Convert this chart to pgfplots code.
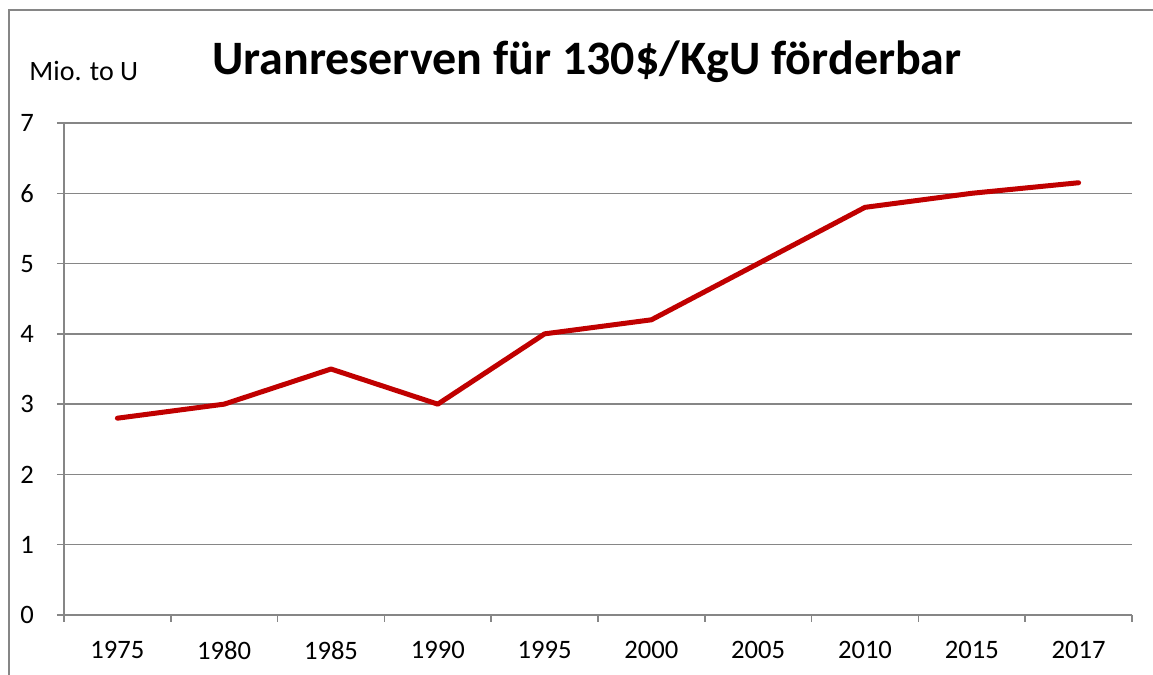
\documentclass[border=0pt]{standalone}
\usepackage{fontspec}
\setmainfont{Carlito}
\usepackage{pgfplots}
\pgfplotsset{compat=1.18}
\definecolor{exred}{RGB}{192,0,0}
\definecolor{exgray}{RGB}{134,134,134}
\begin{document}
\begin{tikzpicture}
\useasboundingbox (0,0) rectangle (576.5pt,337.5pt);
\draw[exgray, line width=1pt] (4.5pt,0) -- (4.5pt,332.5pt) -- (576.5pt,332.5pt);
\node[anchor=base west, font=\fontsize{14}{16}\selectfont, inner sep=0pt] at (14.5pt,297pt) {Mio. to U};
\node[anchor=base, font=\fontsize{24}{28}\selectfont\bfseries, inner sep=0pt] at (293.5pt,300pt) {Uranreserven für 130\$/KgU förderbar};
\begin{axis}[
  at={(32pt,30pt)}, anchor=south west,
  scale only axis, width=534pt, height=246pt,
  xmin=-0.5, xmax=9.5, ymin=0, ymax=7,
  ytick={0,1,...,7},
  xtick={0,1,...,9},
  xticklabels={1975,1980,1985,1990,1995,2000,2005,2010,2015,2017},
  minor xtick={-0.5,0.5,...,9.5},
  axis x line*=bottom, axis y line*=left,
  axis line style={exgray, line width=0.75pt, -},
  tick align=outside,
  major tick length=3.5pt, minor tick length=3.5pt,
  major x tick style={draw=none},
  ytick style={exgray, line width=0.75pt},
  minor x tick style={exgray, line width=0.75pt},
  ymajorgrids, major grid style={exgray, line width=0.75pt},
  tick label style={font=\fontsize{13.3}{15}\selectfont, text=black},
  /pgf/number format/assume math mode=true,
  yticklabel style={anchor=east, xshift=-8pt},
  xticklabel style={anchor=north, yshift=-6pt},
  clip=false,
]
\addplot[exred, line width=2.5pt, line cap=round, line join=round] coordinates {
(0,2.8) (1,3.0) (2,3.5) (3,3.0) (4,4.0) (5,4.2) (6,5.0) (7,5.8) (8,6.0) (9,6.15)
};
\end{axis}
\end{tikzpicture}
\end{document}
